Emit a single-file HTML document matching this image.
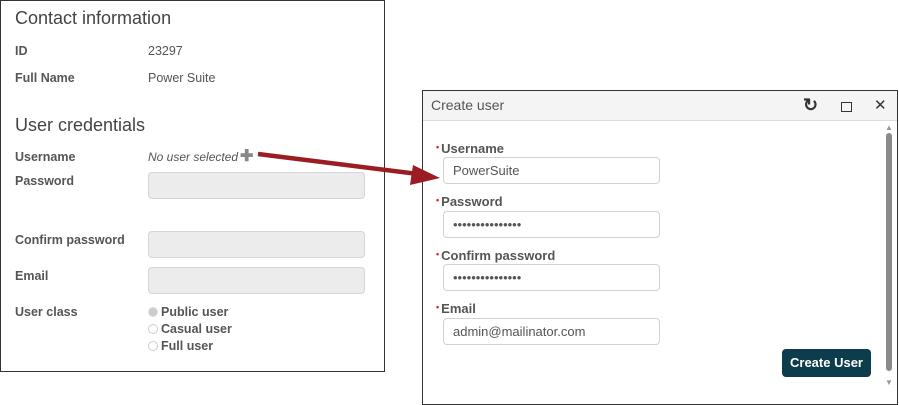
<!DOCTYPE html>
<html><head><style>
*{margin:0;padding:0;box-sizing:border-box}
body{width:899px;height:405px;background:#fff;position:relative;overflow:hidden;font-family:"Liberation Sans",sans-serif;color:#555}
.a{position:absolute;white-space:nowrap}
.lbl{font-size:12.5px;font-weight:bold;color:#555}
.val{font-size:12.5px;color:#555}
.h{font-size:18px;color:#444}
.in{position:absolute;background:#ececec;border:1px solid #d6d6d6;border-radius:4px}
.fi{position:absolute;background:#fff;border:1px solid #d2d2d2;border-radius:4px;font-size:13px;color:#555;padding-left:9px;line-height:26px}
.rl{position:absolute;font-size:13px;font-weight:bold;color:#555}
.rl i{color:#d22;font-style:normal;font-size:9px;vertical-align:3px;margin-right:2px}
.r{display:inline-block;width:10px;height:10px;border:1px solid #ccc;border-radius:50%;margin-right:3px;vertical-align:-1px}
</style></head><body>
<div class="a" style="left:0;top:0;width:385px;height:372px;border:1.5px solid #333"></div>
<div class="a h" style="left:15px;top:8px">Contact information</div>
<div class="a lbl" style="left:15px;top:44px">ID</div>
<div class="a val" style="left:148px;top:44px">23297</div>
<div class="a lbl" style="left:15px;top:71px">Full Name</div>
<div class="a val" style="left:148px;top:71px">Power Suite</div>
<div class="a h" style="left:15px;top:115px">User credentials</div>
<div class="a lbl" style="left:15px;top:150px">Username</div>
<div class="a val" style="left:148px;top:150px;font-style:italic;font-size:12px">No user selected</div>
<div class="a" style="left:240px;top:146px;color:#888;font-size:16px;font-weight:bold">✚</div>
<div class="a lbl" style="left:15px;top:174px">Password</div>
<div class="in" style="left:148px;top:172px;width:217px;height:27px"></div>
<div class="a lbl" style="left:15px;top:233px">Confirm password</div>
<div class="in" style="left:148px;top:231px;width:217px;height:27px"></div>
<div class="a lbl" style="left:15px;top:269px">Email</div>
<div class="in" style="left:148px;top:267px;width:217px;height:27px"></div>
<div class="a lbl" style="left:15px;top:305px">User class</div>
<div class="a lbl" style="left:148px;top:305px"><span class="r" style="background:#ccc;border-color:#ddd"></span>Public user</div>
<div class="a lbl" style="left:148px;top:322px"><span class="r"></span>Casual user</div>
<div class="a lbl" style="left:148px;top:339px"><span class="r"></span>Full user</div>

<div class="a" style="left:422px;top:90px;width:476px;height:315px;border:1.5px solid #333"></div>
<div class="a" style="left:423px;top:91px;width:474px;height:30px;background:#f4f4f4;border-bottom:1px solid #ddd"></div>
<div class="a" style="left:431px;top:97px;font-size:14px;color:#555">Create user</div>
<div class="a" style="left:803px;top:95px;font-size:18px;color:#333;font-weight:bold">↻</div>
<div class="a" style="left:841px;top:102px;width:11px;height:10px;border:1.5px solid #333"></div>
<div class="a" style="left:874px;top:96px;font-size:15px;color:#333">✕</div>
<div class="a" style="left:886px;top:133px;width:6px;height:238px;background:#8a8a8a;border-radius:3px"></div>
<div class="a" style="left:885px;top:123px;font-size:8px;color:#999">▲</div>
<div class="a" style="left:885px;top:378px;font-size:8px;color:#999">▼</div>
<div class="rl" style="left:436px;top:141px"><i>•</i>Username</div>
<div class="fi" style="left:443px;top:157px;width:217px;height:27px">PowerSuite</div>
<div class="rl" style="left:436px;top:194px"><i>•</i>Password</div>
<div class="fi" style="left:443px;top:211px;width:217px;height:27px">•••••••••••••••</div>
<div class="rl" style="left:436px;top:248px"><i>•</i>Confirm password</div>
<div class="fi" style="left:443px;top:264px;width:217px;height:27px">•••••••••••••••</div>
<div class="rl" style="left:436px;top:301px"><i>•</i>Email</div>
<div class="fi" style="left:443px;top:318px;width:217px;height:27px">admin@mailinator.com</div>
<div class="a" style="left:782px;top:349px;width:89px;height:28px;background:#0d3c4d;border-radius:4px;color:#fff;font-size:13px;font-weight:bold;text-align:center;line-height:28px">Create User</div>

<svg class="a" style="left:0;top:0" width="899" height="405">
<line x1="258" y1="154" x2="418" y2="174" stroke="#9b1c22" stroke-width="4.5"/>
<polygon points="440,178 413,165 410,185" fill="#9b1c22"/>
</svg>
</body></html>
